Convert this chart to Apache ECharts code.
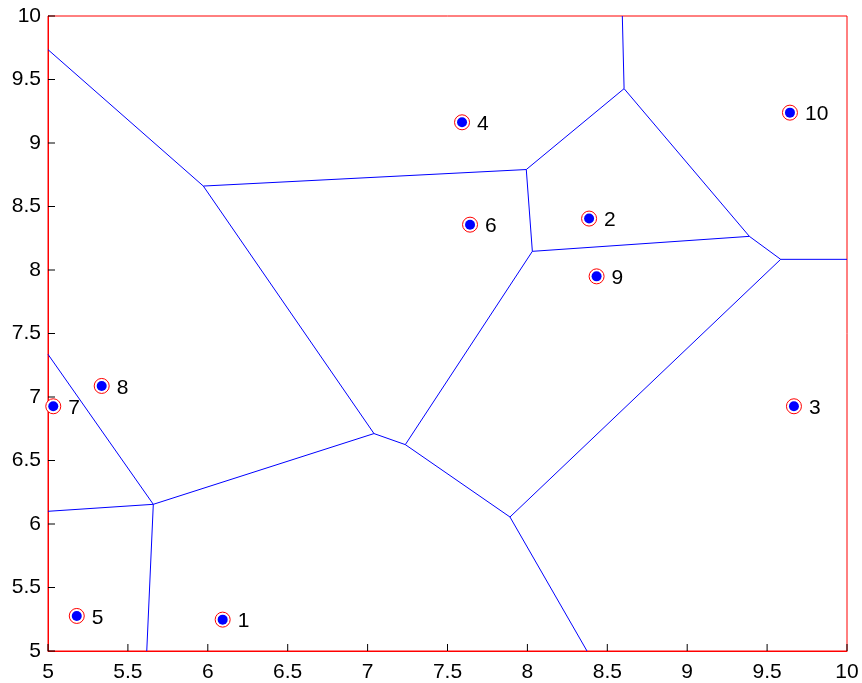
<!DOCTYPE html>
<html>
<head>
<meta charset="utf-8">
<script src="https://cdn.jsdelivr.net/npm/echarts@6/dist/echarts.min.js"></script>
<style>html,body{margin:0;padding:0;background:#fff;}#c{width:862px;height:683px;}</style>
</head>
<body>
<div id="c"></div>
<script>
// Site points
const pointLabels = ['1','2','3','4','5','6','7','8','9','10'];
const pointX = [6.093, 8.386, 9.668, 7.591, 5.180, 7.641, 5.033, 5.336, 8.433, 9.643];
const pointY = [5.247, 8.405, 6.927, 9.163, 5.276, 8.357, 6.927, 7.087, 7.950, 9.239];

// Voronoi vertices (data coordinates)
const vertexNames = ['A','B','C','D','E','F','G','H','I','J','K','L','M','N','O','P','Q'];
const vertexX = [5.000, 5.972, 7.993, 8.031, 9.389, 9.585, 10.000, 8.605, 8.594, 7.040, 7.236, 7.891, 8.373, 5.659, 5.618, 5.000, 5.000];
const vertexY = [9.735, 8.661, 8.791, 8.147, 8.265, 8.084, 8.084, 9.428, 10.000, 6.712, 6.625, 6.055, 5.000, 6.155, 5.000, 6.100, 7.336];

// Voronoi edges (pairs of vertex names)
const edges = [
  ['A','B'],['B','C'],['C','H'],['H','I'],['H','E'],['C','D'],['D','E'],['E','F'],['F','G'],
  ['D','K'],['K','J'],['J','B'],['J','N'],['N','O'],['N','P'],['N','Q'],['K','L'],['L','M'],['L','F']
];

// Axis ticks
const axisMin = 5, axisMax = 10, axisStep = 0.5;
const tickValues = [5, 5.5, 6, 6.5, 7, 7.5, 8, 8.5, 9, 9.5, 10];

const font = 'Liberation Sans, Arial, Helvetica, sans-serif';
const vIdx = n => vertexNames.indexOf(n);

const edgeSeries = edges.map(e => ({
  type: 'line',
  data: [[vertexX[vIdx(e[0])], vertexY[vIdx(e[0])]], [vertexX[vIdx(e[1])], vertexY[vIdx(e[1])]]],
  showSymbol: false,
  symbol: 'none',
  silent: true,
  lineStyle: { color: '#0000ff', width: 1 },
  animation: false,
  z: 2
}));

const pts = pointX.map((x, i) => [x, pointY[i], pointLabels[i]]);

// inward tick marks drawn at the axis tick values
const tickSeries = [
  {
    type: 'scatter',
    data: tickValues.map(v => [v, axisMin]),
    symbol: 'rect', symbolSize: [1, 7], symbolOffset: [0, -3.5],
    itemStyle: { color: '#000000', opacity: 1 },
    clip: false, silent: true, z: 6
  },
  {
    type: 'scatter',
    data: tickValues.map(v => [axisMin, v]),
    symbol: 'rect', symbolSize: [7, 1], symbolOffset: [3.5, 0],
    itemStyle: { color: '#000000', opacity: 1 },
    clip: false, silent: true, z: 6
  }
];

const chart = echarts.init(document.getElementById('c'), null, { renderer: 'canvas' });
chart.setOption({
  animation: false,
  backgroundColor: '#ffffff',
  grid: {
    left: 48, right: 15, top: 16, bottom: 32,
    show: true, borderColor: '#ff0000', borderWidth: 1, backgroundColor: 'transparent'
  },
  xAxis: {
    type: 'value', min: axisMin, max: axisMax, interval: axisStep,
    axisLine: { show: true, onZero: false, lineStyle: { color: '#ff0000', width: 1 } },
    axisTick: { show: false },
    splitLine: { show: false },
    axisLabel: { color: '#000', fontSize: 21, fontFamily: font, margin: 11 }
  },
  yAxis: {
    type: 'value', min: axisMin, max: axisMax, interval: axisStep,
    axisLine: { show: true, onZero: false, lineStyle: { color: '#ff0000', width: 1 } },
    axisTick: { show: false },
    splitLine: { show: false },
    axisLabel: { color: '#000', fontSize: 21, fontFamily: font, margin: 7 }
  },
  series: edgeSeries.concat(tickSeries, [
    {
      type: 'scatter',
      data: pts,
      symbol: 'circle',
      symbolSize: 15,
      itemStyle: { color: '#ffffff', borderColor: '#ff0000', borderWidth: 1, opacity: 1 },
      silent: true,
      z: 3
    },
    {
      type: 'scatter',
      data: pts,
      symbol: 'circle',
      symbolSize: 10,
      itemStyle: { color: '#0000ff', opacity: 1 },
      label: {
        show: true, position: 'right', distance: 10,
        formatter: p => p.data[2],
        color: '#000', fontSize: 21, fontFamily: font, offset: [0, 2]
      },
      silent: true,
      z: 4
    }
  ])
});
</script>
</body>
</html>
